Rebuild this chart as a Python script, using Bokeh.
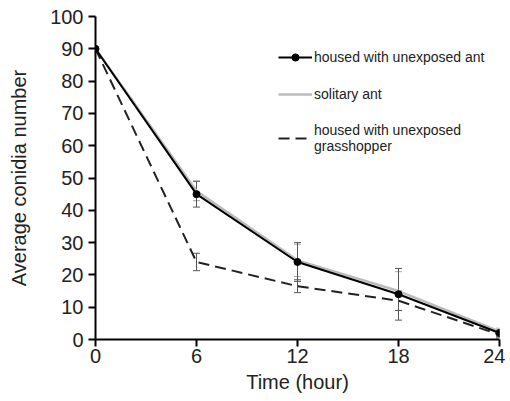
from bokeh.plotting import figure
from bokeh.models import ColumnDataSource, Whisker, Legend, LegendItem, FixedTicker
from bokeh.embed import file_html
from bokeh.resources import INLINE

hours = [0, 6, 12, 18, 24]
ant = [90, 45, 24, 14, 2]
ant_err = [0, 4, 6, 8, 1]
solitary = [90, 46, 24.5, 15, 2.5]
solitary_err = [0, 3, 5, 6, 1]
grass = [90, 24, 16.5, 12, 1.5]
grass_err = [0, 2.7, 2, 3, 1]

FONT = "Liberation Sans"

p = figure(width=505, height=395, output_backend="svg", toolbar_location=None,
           x_range=(0, 24), y_range=(0, 100),
           min_border_left=95, min_border_right=6, min_border_top=16, min_border_bottom=54)
p.outline_line_color = None
p.grid.visible = False
p.background_fill_color = "white"

def add_err(x, y, e, color):
    lo = [a - b for a, b in zip(y, e)]
    hi = [a + b for a, b in zip(y, e)]
    src = ColumnDataSource(dict(x=x, lo=lo, hi=hi))
    w = Whisker(source=src, base="x", lower="lo", upper="hi",
                line_color=color, line_width=1)
    w.upper_head.size = 7
    w.lower_head.size = 7
    w.upper_head.line_color = color
    w.lower_head.line_color = color
    p.add_layout(w)

add_err(hours, solitary, solitary_err, "#aaaaaa")
add_err(hours, grass, grass_err, "#555555")
add_err(hours, ant, ant_err, "#555555")

r_sol = p.line(hours, solitary, line_color="#bbbbbb", line_width=2.5)
r_gr = p.line(hours, grass, line_color="#222222", line_width=2, line_dash="11 6")
r_ant = p.line(hours, ant, line_color="black", line_width=2)
r_antm = p.scatter(hours, ant, size=7, fill_color="black", line_color="black")

legend = Legend(items=[
    LegendItem(label="housed with unexposed ant", renderers=[r_ant, r_antm]),
    LegendItem(label="solitary ant", renderers=[r_sol]),
    LegendItem(label="housed with unexposed\ngrasshopper", renderers=[r_gr]),
], location=(183, 185))
legend.border_line_color = None
legend.background_fill_alpha = 0
legend.label_text_font = FONT
legend.label_text_font_size = "14px"
legend.label_text_color = "#222222"
legend.glyph_width = 34
legend.glyph_height = 18
legend.label_standoff = 2
legend.spacing = 19
legend.padding = 0
legend.margin = 0
p.add_layout(legend, "center")

for ax in (p.xaxis[0], p.yaxis[0]):
    ax.axis_line_color = "black"
    ax.axis_line_width = 2
    ax.major_tick_line_color = "black"
    ax.major_tick_line_width = 2
    ax.major_tick_out = 7
    ax.major_tick_in = 0
    ax.minor_tick_line_color = None
    ax.major_label_text_font = FONT
    ax.major_label_text_font_size = "20px"
    ax.major_label_text_color = "#222222"
    ax.axis_label_text_font = FONT
    ax.axis_label_text_font_size = "20px"
    ax.axis_label_text_font_style = "normal"
    ax.axis_label_text_color = "#222222"

p.xaxis.ticker = FixedTicker(ticks=hours)
p.yaxis.ticker = FixedTicker(ticks=list(range(0, 101, 10)))
p.xaxis.axis_label = "Time (hour)"
p.yaxis.axis_label = "Average conidia number"
p.xaxis.major_label_standoff = 2
p.xaxis.axis_label_standoff = 5
p.yaxis.major_label_standoff = 5
p.yaxis.axis_label_standoff = 17

open("out.html", "w").write(file_html(p, INLINE))
